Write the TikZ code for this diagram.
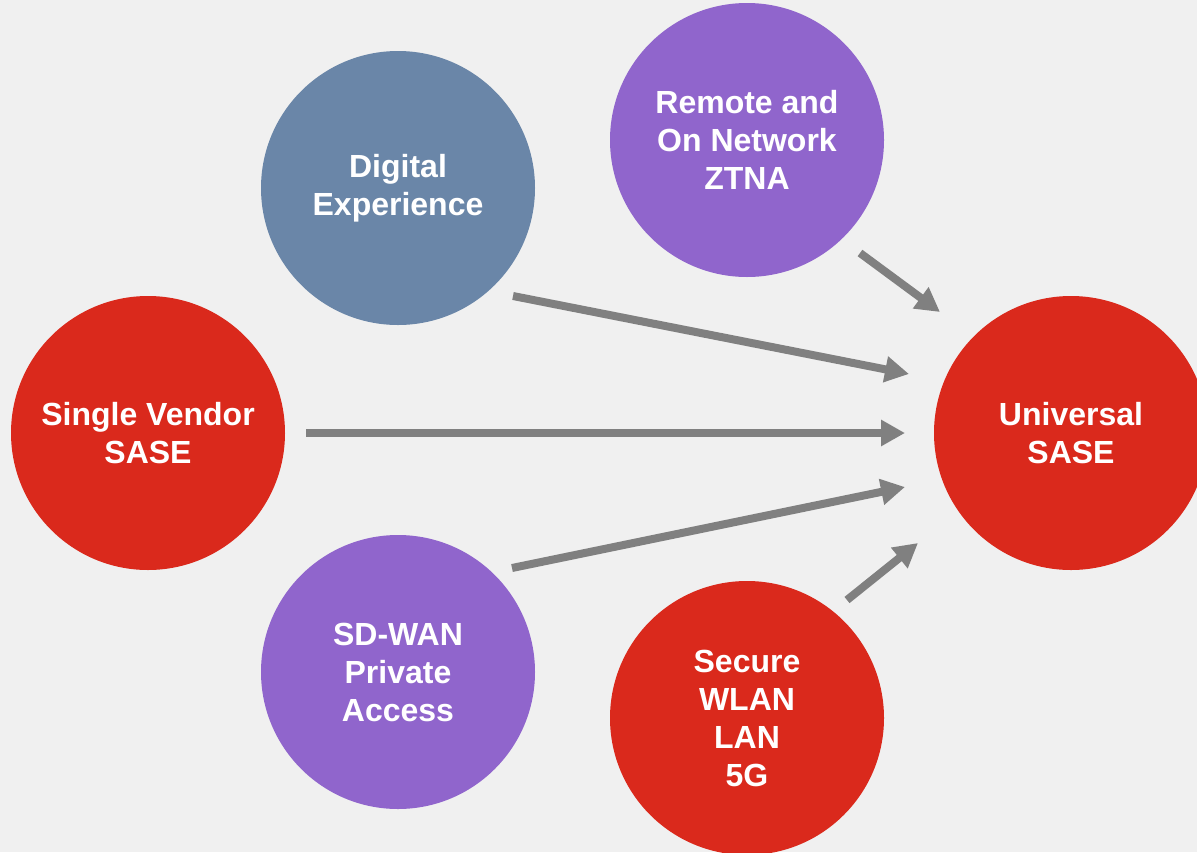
\documentclass[tikz,border=0pt]{standalone}
\usepackage{fontspec}
\setmainfont{Liberation Sans}
\usetikzlibrary{arrows.meta}
\definecolor{bg}{HTML}{F0F0F0}
\definecolor{cred}{HTML}{DA291C}
\definecolor{cpurple}{HTML}{9065CC}
\definecolor{cblue}{HTML}{6A86A8}
\definecolor{carrow}{HTML}{808080}
\begin{document}
\begin{tikzpicture}[x=1pt,y=-1pt,
  bubble/.style={circle, minimum size=274pt, inner sep=0pt, text=white, align=center,
    font=\fontsize{32}{38}\selectfont\bfseries},
  conn/.style={draw=carrow, line width=8pt, -{Triangle[length=24pt,width=25pt]}}]
\fill[bg] (0,0) rectangle (1197,852);
\useasboundingbox (0,0) rectangle (1197,852);
\clip (0,0) rectangle (1197,852);

\node[bubble, fill=cblue]   (dig) at (398,188) {Digital\\Experience};
\node[bubble, fill=cpurple] (rem) at (747,140) {Remote and\\On Network\\ZTNA};
\node[bubble, fill=cred]    (svs) at (148,433) {Single Vendor\\SASE};
\node[bubble, fill=cred]    (uni) at (1071,433) {Universal\\SASE};
\node[bubble, fill=cpurple] (sdw) at (398,672) {SD-WAN\\Private\\Access};
\node[bubble, fill=cred]    (sec) at (747,718) {Secure\\WLAN\\LAN\\5G};

\coordinate (a1s) at (513,296);  \coordinate (a1e) at (909,374);
\coordinate (a2s) at (860,253);  \coordinate (a2e) at (940,312);
\coordinate (a3s) at (306,433);  \coordinate (a3e) at (905,433);
\coordinate (a4s) at (512,568);  \coordinate (a4e) at (905,487);
\coordinate (a5s) at (847,600);  \coordinate (a5e) at (918,543);

\draw[conn] (a1s) -- (a1e);
\draw[conn] (a2s) -- (a2e);
\draw[conn] (a3s) -- (a3e);
\draw[conn] (a4s) -- (a4e);
\draw[conn] (a5s) -- (a5e);
\end{tikzpicture}
\end{document}
